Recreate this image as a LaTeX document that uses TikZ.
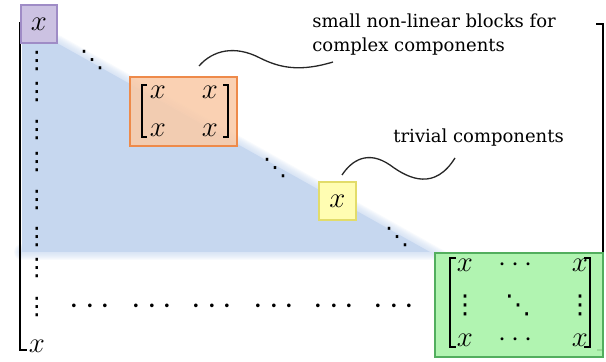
\documentclass[tikz,border=0pt]{standalone}
\usepackage{amsmath}
\usepackage{fontspec}
\setmainfont{DejaVu Serif}
\newfontfamily\dotsfont{DejaVu Sans}
\usetikzlibrary{positioning}
\definecolor{mblue}{HTML}{C6D7EF}
\definecolor{mlilac}{HTML}{CCC2E2}
\definecolor{mlilacdk}{HTML}{9F8CC6}
\definecolor{mpeach}{HTML}{F9CBA9}
\definecolor{morange}{HTML}{EE8A4A}
\definecolor{mlemon}{HTML}{FFFDB2}
\definecolor{mlemondk}{HTML}{E2DC6A}
\definecolor{mmint}{HTML}{A9F3A9}
\definecolor{mmintdk}{HTML}{52AE5E}

\begin{document}
\begin{tikzpicture}[x=0.5pt, y=-0.5pt,
  ent/.style={inner sep=0pt, font=\fontsize{15}{17}\selectfont},
  vdt/.style={inner sep=0pt, font=\dotsfont\fontsize{12}{14}\selectfont},
  matvdt/.style={inner sep=0pt, font=\dotsfont\fontsize{13}{15}\selectfont},
  rowdots/.style={inner sep=0pt, font=\fontsize{18}{20}\selectfont},
  matdots/.style={inner sep=0pt, font=\fontsize{14.4}{16}\selectfont},
  blk/.style={line width=0.6pt, inner sep=0pt},
  brk/.style={line width=0.7pt},
  bigbrk/.style={line width=1pt},
  note/.style={inner sep=0pt, anchor=west, align=left,
               font=\fontsize{9}{12}\selectfont},
  wave/.style={line width=0.65pt, black!85}]
  \useasboundingbox (0,0) rectangle (606,362);
  % shaded lower part
  \fill[mblue] (22,43) -- (57,43) -- (430,252) -- (22,252) -- cycle;
  \foreach \w in {2,4,...,16}
    \draw[mblue, opacity=0.12, line width=\w*0.5pt, line cap=round]
      (57,43) -- (430,252) -- (22,252);
  % outer brackets
  \draw[bigbrk] (27,23) -- (20,23) -- (20,350) -- (27,350);
  \draw[bigbrk] (596,24) -- (603,24) -- (603,350) -- (597,350);
  % first column and last row
  \foreach \y in {61,92,130,162,200,237,268,307}
    \node[vdt] (col\y) at (37,\y) {⋮};
  \foreach \x in {93,155,215,277,337,397}
    \node[rowdots] (row\x) at (\x,307) {$\cdots$};
  \node[ent] (xlast) at (37,346) {$x$};
  \node[vdt] (dg1) at (92,60) {⋱};
  \node[vdt] (dg2) at (275,168) {⋱};
  \node[vdt] (dg3) at (397,237) {⋱};
  % blocks
  \node[blk, draw=mlilacdk, fill=mlilac, minimum width=18pt, minimum height=19pt,
        font=\fontsize{15}{17}\selectfont] (xfirst) at (39,24) {$x$};
  \node[blk, draw=morange, fill=mpeach, fill opacity=0.88, minimum width=53.5pt,
        minimum height=34.5pt] (small) at (183.5,111.5) {};
  \node[blk, draw=mlemondk, fill=mlemon, minimum width=18.5pt, minimum height=19pt,
        font=\fontsize{15}{17}\selectfont] (triv) at (337.5,201) {$x$};
  \node[blk, draw=mmintdk, fill=mmint, fill opacity=0.9, minimum width=84pt,
        minimum height=52pt] (dense) at (519,305) {};
  % 2x2 block
  \draw[brk] (147,85) -- (142,85) -- (142,137) -- (147,137);
  \draw[brk] (223,85) -- (228,85) -- (228,137) -- (223,137);
  \node[ent] (s11) at (158,92) {$x$};
  \node[ent] (s12) at (210,92) {$x$};
  \node[ent] (s21) at (158,130) {$x$};
  \node[ent] (s22) at (210,130) {$x$};
  % big block
  \draw[brk] (456,258) -- (450,258) -- (450,347) -- (456,347);
  \draw[brk] (584,258) -- (590,258) -- (590,347) -- (584,347);
  \node[ent] (d11) at (465,265) {$x$};
  \node[matdots] (d12) at (518,265) {$\cdots$};
  \node[ent] (d13) at (580,265) {$x$};
  \node[matvdt] (d21) at (465,305) {⋮};
  \node[matvdt] (d22) at (518,305) {⋱};
  \node[matvdt] (d23) at (580,305) {⋮};
  \node[ent] (d31) at (465,340) {$x$};
  \node[matdots] (d32) at (518,340) {$\cdots$};
  \node[ent] (d33) at (580,340) {$x$};
  % labels
  \node[note] (lblblk) at (312,35) {small non-linear blocks for\\complex components};
  \node[note] (lbltriv) at (393,138) {trivial components};
  \coordinate (w1a) at (199,66);
  \coordinate (w1b) at (333,62);
  \coordinate (w2a) at (342,175);
  \coordinate (w2b) at (455,158);
  \draw[wave] (w1a) .. controls (213,50) and (235,45) .. (260,58)
              .. controls (280,68) and (300,72) .. (w1b);
  \draw[wave] (w2a) .. controls (352,160) and (368,150) .. (390,165)
              .. controls (410,180) and (435,190) .. (w2b);
\end{tikzpicture}
\end{document}
